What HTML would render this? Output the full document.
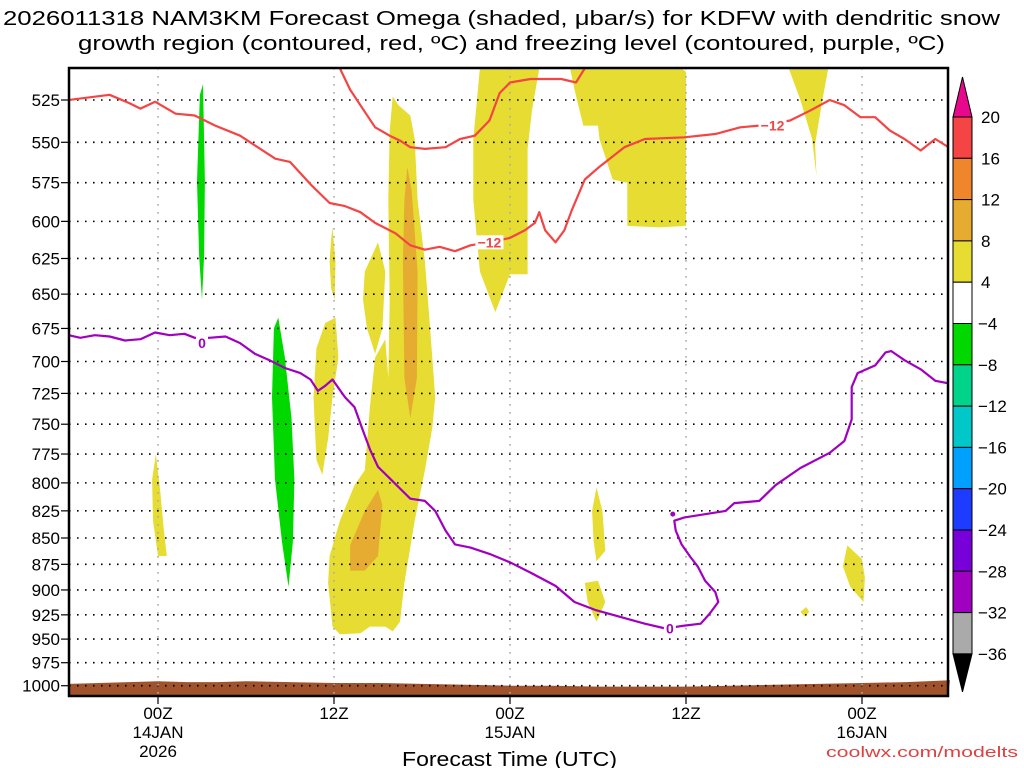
<!DOCTYPE html>
<html><head><meta charset="utf-8">
<style>
html,body{margin:0;padding:0;background:#fff;}
svg{display:block;font-family:"Liberation Sans",sans-serif;}
</style></head>
<body>
<svg id="chart" width="1024" height="768" viewBox="0 0 1024 768">
  <text x="3" y="25" textLength="997" lengthAdjust="spacingAndGlyphs" font-size="20" fill="#000">2026011318 NAM3KM Forecast Omega (shaded, μbar/s) for KDFW with dendritic snow</text>
  <text x="78" y="50" textLength="867" lengthAdjust="spacingAndGlyphs" font-size="20" fill="#000">growth region (contoured, red, ºC) and freezing level (contoured, purple, ºC)</text>
  <g id="shades"></g>
  <g id="terrain"></g>
  <g id="grid"></g>
  <g id="contours"></g>
  <rect x="69" y="68" width="879" height="628" fill="none" stroke="#000" stroke-width="2.5"/>
  <g id="yaxis"></g>
  <g id="xaxis"></g>
  <text x="402" y="766" textLength="215" lengthAdjust="spacingAndGlyphs" font-size="20" fill="#000">Forecast Time (UTC)</text>
  <text x="826" y="757" textLength="192" lengthAdjust="spacingAndGlyphs" font-size="15" fill="#e04040">coolwx.com/modelts</text>
  <g id="cbar"></g>
</svg>
<script>
// ---- data ----
const pressureTicks=[525,550,575,600,625,650,675,700,725,750,775,800,825,850,875,900,925,950,975,1000];
const timeTicks=[0,12,24,36,48];
const timeLabels=[["00Z","14JAN","2026"],["12Z"],["00Z","15JAN"],["12Z"],["00Z","16JAN"]];
const cbarLabels=["20","16","12","8","4","−4","−8","−12","−16","−20","−24","−28","−32","−36"];
const cbarColors=["#f44444","#f0862c","#e6ac32","#e6dc32","#ffffff","#00d800","#00d48a","#00c8c8","#00a0ff","#1e3cff","#7800d8","#a000c0","#aaaaaa"];
// shaded regions: [hour, hPa]
const yellowShapes=[
 [[-0.4,797],[-0.14,775],[0.14,806],[0.4,843],[0.6,867],[0,867],[-0.34,834]],
 [[11.8,612],[11.9,604],[12.1,627],[12.05,654],[11.8,646],[11.7,627]],
 [[14.1,634],[15.0,614],[15.5,634],[15.3,675],[14.8,694],[14.25,675],[13.98,654]],
 [[10.8,690],[11.4,671],[12.1,667],[12.3,697],[11.9,728],[11.6,762],[11.2,793],[10.8,780],[10.6,728]],
 [[16.0,523],[16.4,528],[17.2,534],[17.5,548],[17.7,586],[18.2,627],[18.5,667],[18.9,728],[18.7,753],[18.2,789],[17.5,834],[16.8,893],[16.5,932],[16.0,942],[15.5,937],[14.45,937],[13.8,944],[12.4,945],[11.9,937],[11.6,893],[11.7,867],[12.4,834],[13.4,802],[14.1,789],[14.45,736],[14.8,697],[15.5,683],[15.7,713],[15.8,654],[15.7,586],[15.8,543]],
 [[21.95,507],[26.0,507],[25.5,531],[25.2,554],[25.2,636],[24,636],[23,663],[21.95,634],[21.5,586],[21.5,548]],
 [[28.1,507],[35.7,507],[36,509],[36,603],[34.2,604],[32,603],[32,575],[31,573],[30.1,548],[30,540],[29,540],[28.4,519]],
 [[43,507],[45.7,507],[45.3,525],[44.8,551],[44.9,571],[44.6,548],[43.8,525]],
 [[29.6,825],[29.9,804],[30.3,825],[30.5,862],[29.9,872],[29.7,853]],
 [[29.1,893],[30,891],[30.5,912],[29.9,932],[29.3,912]],
 [[46.7,877],[47,857],[48,870],[48.2,888],[48.1,912],[47.2,897]],
 [[43.8,922],[44.2,917],[44.4,922],[44.1,927]]
];
const orangeShapes=[
 [[17.0,565],[17.3,580],[17.7,634],[17.65,713],[17.2,745],[16.8,713],[16.7,627],[16.8,586]],
 [[13.1,857],[14.1,825],[15.0,806],[15.3,820],[15.0,867],[14.1,881],[13.1,881]]
];
const greenShapes=[
 [[2.66,574],[2.86,522],[3.07,516],[3.2,574],[3.14,623],[3.0,654],[2.8,623]],
 [[7.9,675],[8.2,667],[8.65,697],[9.1,745],[9.3,797],[9.2,853],[8.9,897],[8.45,853],[7.98,797],[7.77,728]]
];
const surfHours=[-6.1,-4,-2,0,2,4,6,9,12,15,18,21,24,27,30,33,36,39,42,45,48,51,54];
const surfPres=[998,997,996,995,996,996,995,996,997,997,998,999,1000,1000,1001,1001,1001,1000,999,998,997,996,994];
const redHours1=[-6.1,-3.3,-1.9,-1.2,-0.2,1.2,2.5,3.9,5.6,8,9,10.4,11.7,12.75,13.8,14.8,16.2,17.2,18.2,19.2,20.25,21.3,22.6,24,25,25.7,26,26.4,27.1,27.7,28.2,29.1,30.1,31.8,33.2,35.9,38,39.7,41,43.1,44.5,45.8,46.8,47.9,48.9,49.9,50.9,52,53,53.9];
const redPres1=[525,522,527,530,526,533,534,540,546,560,562,576,588,590,594,601,608,616,619,617,620,616,614,611,606,601,594,606,614,606,593,573,565,553,548,547,545,541,540,537,531,525,528,535,535,543,548,555,548,553];
const redHours2=[12.4,13.1,13.8,14.8,15.8,16.5,17.2,18.2,19.6,20.6,21.6,22.6,23.3,24,25.4,27.5,28.5,29.1];
const redPres2=[507,519,528,541,546,549,553,554,553,548,546,537,521,515,513,513,515,507];
const purpleHours=[-6.1,-5.3,-4.3,-3.3,-2.25,-1.2,-0.2,0.8,1.8,2.5,3.5,4.6,5.6,6.6,7.6,8.65,9.7,10.4,10.9,11.4,11.9,12.75,13.4,13.9,14.45,15.0,15.8,16.5,17.2,18.2,18.9,19.6,20.25,21.3,22.6,24,25.4,27.1,28.4,29.8,31.5,33.2,34.6,35.9,37,37.6,38.2,38,37.3,36.8,36.3,35.7,35.3,35.2,35.9,37.3,38.7,39.3,41,42.1,43.8,45.8,46.8,47.3,47.3,47.7,48.9,49.6,50.0,50.9,52,53,53.9];
const purplePres=[680,682,680,681,684,683,678,680,679,682,682,681,686,694,699,705,709,714,723,719,714,728,736,753,771,786,796,805,814,816,825,843,856,859,865,873,883,896,912,920,927,934,939,936,934,924,912,902,891,877,868,856,843,834,831,828,825,818,816,802,787,774,764,746,720,709,703,693,692,699,706,715,717];
const contourLabels=[{t:"−12",h:22.6,p:614,c:"#f44444"},{t:"−12",h:41.9,p:540,c:"#f44444"},{t:"0",h:3.0,p:686,c:"#a000c0"},{t:"0",h:34.9,p:939,c:"#a000c0"}];

// ---- axes ----
const X0=69,X1=948,Y0=68,Y1=696;
function xs(h){return 158+h*(176/12);}
function ys(p){return 100+909*Math.log(p/525);}
const NS="http://www.w3.org/2000/svg";
function mk(tag,attrs,parent){const e=document.createElementNS(NS,tag);for(const k in attrs)e.setAttribute(k,attrs[k]);parent.appendChild(e);return e;}
function pts(arr){return arr.map(d=>xs(d[0]).toFixed(1)+","+ys(d[1]).toFixed(1)).join(" ");}

const shades=document.getElementById("shades");
const clip=mk("clipPath",{id:"plotclip"},shades);
mk("rect",{x:X0,y:Y0,width:X1-X0,height:Y1-Y0},clip);
shades.setAttribute("clip-path","url(#plotclip)");
yellowShapes.forEach(s=>{const e=mk("polygon",{points:pts(s),fill:"#e6dc32"},shades);

});
orangeShapes.forEach(s=>{const e=mk("polygon",{points:pts(s),fill:"#e6ac32"},shades);

});
greenShapes.forEach(s=>{const e=mk("polygon",{points:pts(s),fill:"#00d800"},shades);

});

const terr=document.getElementById("terrain");
let tp=surfHours.map((h,i)=>xs(h).toFixed(1)+","+ys(surfPres[i]).toFixed(1));
tp.unshift(X0+","+Y1);tp.push(X1+","+Y1);
const te=mk("polygon",{points:tp.join(" "),fill:"#a0522d"},terr);



const grid=document.getElementById("grid");
const yax=document.getElementById("yaxis");
pressureTicks.forEach(p=>{
  const y=ys(p);
  const g=mk("line",{x1:X0,x2:X1,y1:y,y2:y,stroke:"#000","stroke-width":1.6,"stroke-dasharray":"1.6 6.4"},grid);
  
  
  mk("line",{x1:X0-8,x2:X0,y1:y,y2:y,stroke:"#000","stroke-width":1.2},yax);
  const t=mk("text",{x:X0-9,y:y+6,"text-anchor":"end","font-size":17,fill:"#000"},yax);
  t.textContent=p;
  
  
});
const xax=document.getElementById("xaxis");
timeTicks.forEach((h,i)=>{
  const x=xs(h);
  const g=mk("line",{x1:x,x2:x,y1:Y0,y2:Y1,stroke:"#aaa","stroke-width":1.6,"stroke-dasharray":"1.6 6.4"},grid);
  
  
  mk("line",{x1:x,x2:x,y1:Y1,y2:Y1+8,stroke:"#000","stroke-width":1.2},xax);
  timeLabels[i].forEach((s,j)=>{
    const t=mk("text",{x:x,y:719+j*19,"text-anchor":"middle","font-size":17,fill:"#000"},xax);
    t.textContent=s;
    
    
  });
});

const cont=document.getElementById("contours");
cont.setAttribute("clip-path","url(#plotclip)");
function line(hs,ps,color,name){
  const e=mk("polyline",{points:hs.map((h,i)=>xs(h).toFixed(1)+","+ys(ps[i]).toFixed(1)).join(" "),fill:"none",stroke:color,"stroke-width":2.2,"stroke-linejoin":"round"},cont);
  
  
}
line(redHours1,redPres1,"#f44444","dgz-contour-main");
line(redHours2,redPres2,"#f44444","dgz-contour-upper");
line(purpleHours,purplePres,"#a000c0","freezing-level-contour");
const dot=mk("circle",{cx:xs(35.1),cy:ys(828),r:2.5,fill:"#a000c0"},cont);


contourLabels.forEach(l=>{
  const x=xs(l.h),y=ys(l.p);
  const w=l.t.length*8+4;
  mk("rect",{x:x-w/2,y:y-7,width:w,height:14,fill:"#fff"},cont);
  const t=mk("text",{x:x,y:y+5,"text-anchor":"middle","font-size":14,"font-weight":"bold",fill:l.c},cont);
  t.textContent=l.t;
  
  
});

// colorbar
const cb=document.getElementById("cbar");
const CX=953,CW=19,CT=117,STEP=41.3;
const tri=mk("polygon",{points:`${CX},${CT} ${CX+CW},${CT} ${CX+CW/2},77`,fill:"#e8088c",stroke:"#000","stroke-width":1},cb);


cbarColors.forEach((c,i)=>{
  const r=mk("rect",{x:CX,y:CT+i*STEP,width:CW,height:STEP,fill:c,stroke:"#000","stroke-width":1},cb);
  
  
});
const bot=CT+cbarColors.length*STEP;
const tri2=mk("polygon",{points:`${CX},${bot} ${CX+CW},${bot} ${CX+CW/2},${bot+38}`,fill:"#000",stroke:"#000","stroke-width":1},cb);


cbarLabels.forEach((s,i)=>{
  const t=mk("text",{x:s.startsWith("−")?978:981,y:CT+i*STEP+6,"font-size":17,fill:"#000"},cb);
  t.textContent=s;
  
  
});
</script>
</body></html>
